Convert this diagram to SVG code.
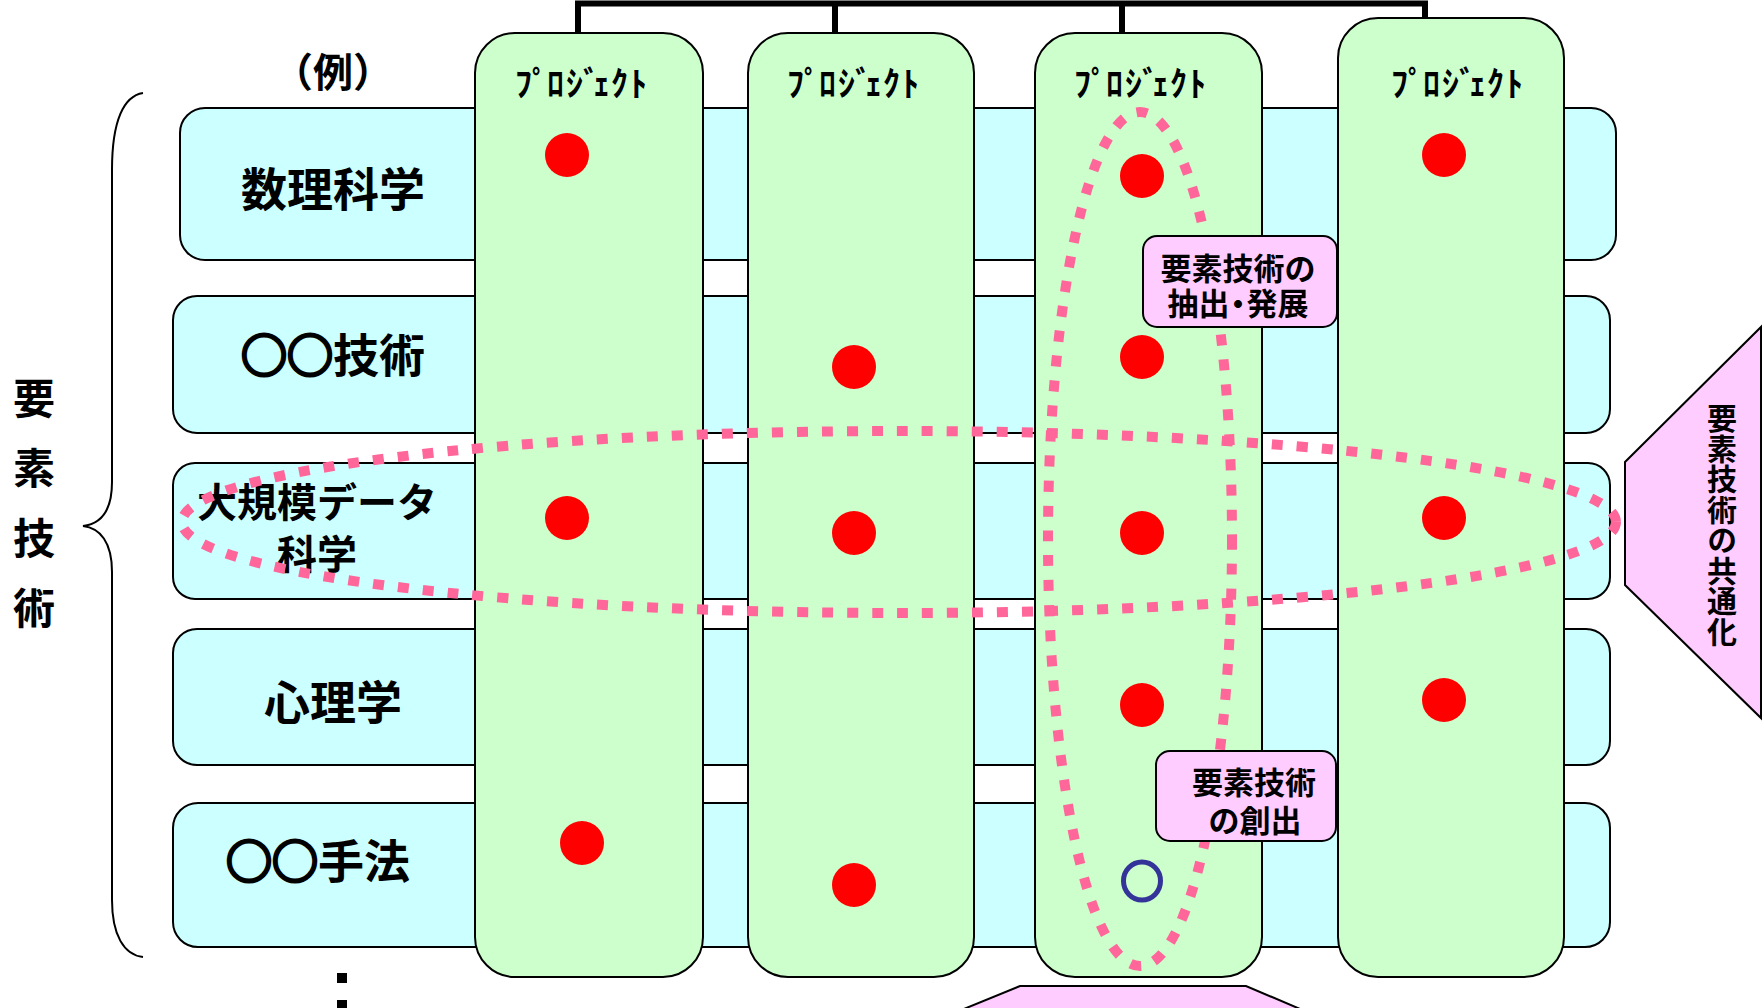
<svg xmlns="http://www.w3.org/2000/svg" width="1764" height="1008" viewBox="0 0 1764 1008">
<style>
.row{fill:#CCFFFF;stroke:#000;stroke-width:2}
.col{fill:#CCFFCC;stroke:#000;stroke-width:2}
.pink{fill:#FFCCFF;stroke:#000;stroke-width:2}
.dot{fill:#FF0000}
.ring{fill:none;stroke:#333399;stroke-width:5}
.dash{fill:none;stroke:#FF6699;stroke-width:10;stroke-dasharray:11 14}
.t{font-family:"Noto Sans CJK JP","Noto Sans CJK SC",sans-serif;font-weight:bold;fill:#000;text-anchor:middle}
.o{stroke:#000;stroke-width:3}
.t46{font-size:46px}
.t40{font-size:40px}
.t42{font-size:42px}
.t34{font-size:34px}
.t31{font-size:31px}
.t30{font-size:30px}
.vert{writing-mode:vertical-rl;text-anchor:start;letter-spacing:0.5px}
</style>
<rect width="1764" height="1008" fill="#FFFFFF"/>

<g id="connectors">
<path d="M578,33 V3.5 H1425 V18 M835,3.5 V33 M1122,3.5 V33" fill="none" stroke="#000" stroke-width="6"/>
</g>

<g id="brace">
<path d="M143,93 C124,96 112,120 112,170 V482 C112,512 100,524 83,526 C100,528 112,542 112,572 V900 C112,935 124,955 143,957" fill="none" stroke="#000" stroke-width="2"/>
</g>

<g id="label-left">
<text class="t t42" x="34" y="414">要</text>
<text class="t t42" x="34" y="484">素</text>
<text class="t t42" x="34" y="554">技</text>
<text class="t t42" x="34" y="624">術</text>
</g>

<g id="label-example">
<text class="t t40" x="333" y="87">（例）</text>
</g>

<g id="row-1"><rect class="row" x="180" y="108" width="1436" height="152" rx="25"/></g>
<g id="row-2"><rect class="row" x="173" y="296" width="1437" height="137" rx="24"/></g>
<g id="row-3"><rect class="row" x="173" y="463" width="1437" height="136" rx="22"/></g>
<g id="row-4"><rect class="row" x="173" y="629" width="1437" height="136" rx="24"/></g>
<g id="row-5"><rect class="row" x="173" y="803" width="1437" height="144" rx="25"/></g>

<g id="row-labels">
<text class="t t46" x="333" y="206">数理科学</text>
<text class="t t46" x="333" y="372"><tspan class="o">○○</tspan>技術</text>
<text class="t t40" x="317" y="517">大規模データ<tspan x="317" dy="52">科学</tspan></text>
<text class="t t46" x="333" y="719">心理学</text>
<text class="t t46" x="318" y="878"><tspan class="o">○○</tspan>手法</text>
</g>

<g id="project-1">
<rect class="col" x="475" y="33" width="228" height="944" rx="40"/>
<text class="t t34" x="581" y="96" dx="0 3 -5 2 1 -8 1 2">ﾌﾟﾛｼﾞｪｸﾄ</text>
<circle class="dot" cx="567" cy="155" r="22"/>
<circle class="dot" cx="567" cy="518" r="22"/>
<circle class="dot" cx="582" cy="843" r="22"/>
</g>
<g id="project-2">
<rect class="col" x="748" y="33" width="226" height="944" rx="40"/>
<text class="t t34" x="853" y="96" dx="0 3 -5 2 1 -8 1 2">ﾌﾟﾛｼﾞｪｸﾄ</text>
<circle class="dot" cx="854" cy="367" r="22"/>
<circle class="dot" cx="854" cy="533" r="22"/>
<circle class="dot" cx="854" cy="885" r="22"/>
</g>
<g id="project-3">
<rect class="col" x="1035" y="33" width="227" height="944" rx="40"/>
<text class="t t34" x="1140" y="96" dx="0 3 -5 2 1 -8 1 2">ﾌﾟﾛｼﾞｪｸﾄ</text>
<circle class="dot" cx="1142" cy="176" r="22"/>
<circle class="dot" cx="1142" cy="357" r="22"/>
<circle class="dot" cx="1142" cy="533" r="22"/>
<circle class="dot" cx="1142" cy="705" r="22"/>
<ellipse class="ring" cx="1142" cy="881" rx="18.5" ry="19"/>
</g>
<g id="project-4">
<rect class="col" x="1338" y="18" width="226" height="959" rx="40"/>
<text class="t t34" x="1457" y="96" dx="0 3 -5 2 1 -8 1 2">ﾌﾟﾛｼﾞｪｸﾄ</text>
<circle class="dot" cx="1444" cy="155" r="22"/>
<circle class="dot" cx="1444" cy="518" r="22"/>
<circle class="dot" cx="1444" cy="700" r="22"/>
</g>

<g id="group-horizontal">
<ellipse class="dash" cx="899" cy="522" rx="717" ry="91"/>
</g>
<g id="group-vertical">
<ellipse class="dash" cx="1140" cy="539" rx="92" ry="427"/>
</g>

<g id="callout-extract">
<rect class="pink" x="1143" y="236" width="194" height="91" rx="14"/>
<text class="t t31" x="1238" y="280">要素技術の<tspan x="1238" dy="35" dx="0 0 -7 -7 0">抽出・発展</tspan></text>
</g>

<g id="callout-create">
<rect class="pink" x="1156" y="751" width="180" height="90" rx="14"/>
<text class="t t31" x="1254" y="794">要素技術<tspan x="1255" dy="38">の創出</tspan></text>
</g>

<g id="common">
<polygon class="pink" points="1625,462 1761,327 1761,718 1625,585"/>
<text class="t t30 vert" x="1722" y="403">要素技術の共通化</text>
</g>

<g id="bottom-shape">
<polygon class="pink" points="1020,986 1246,986 1326,1020 937,1020"/>
</g>

<g id="ellipsis">
<rect x="337" y="973" width="10" height="10" fill="#000"/>
<rect x="337" y="1000" width="10" height="10" fill="#000"/>
</g>
</svg>
